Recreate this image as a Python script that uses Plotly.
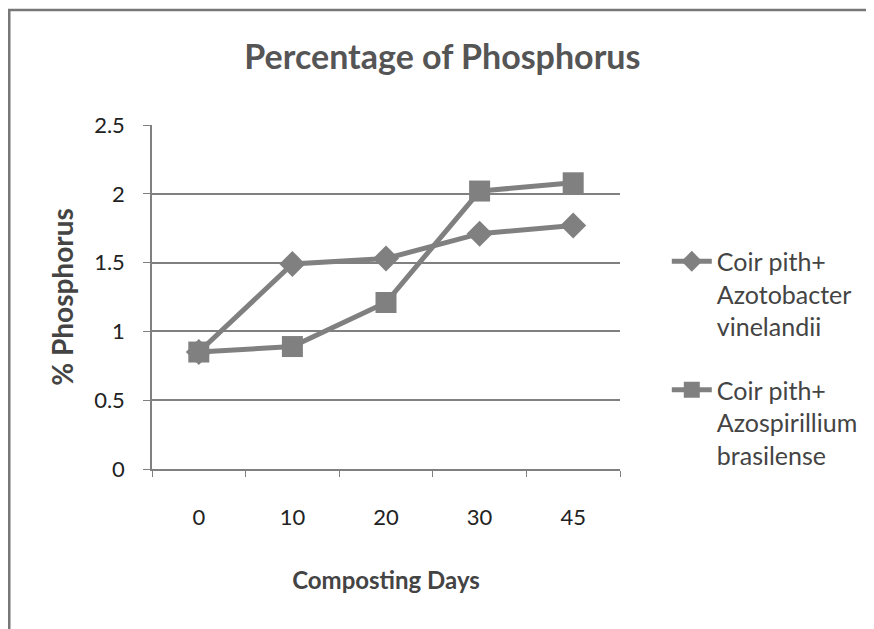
import plotly.graph_objects as go

days = ["0", "10", "20", "30", "45"]
azotobacter = [0.85, 1.49, 1.53, 1.71, 1.77]
azospirillum = [0.85, 0.89, 1.21, 2.02, 2.08]
series_names = ["Coir pith+<br>Azotobacter<br>vinelandii", "Coir pith+<br>Azospirillium<br>brasilense"]
y_ticks = [0, 0.5, 1, 1.5, 2, 2.5]
y_tick_text = ["0", "0.5", "1", "1.5", "2", "2.5"]

GRAY = "#808080"
FONT = "Lato"

fig = go.Figure()
fig.add_trace(go.Scatter(
    x=days, y=azotobacter, name=series_names[0], mode="lines+markers",
    legendgroup="a",
    line=dict(color=GRAY, width=5),
    marker=dict(symbol="diamond", size=20, color=GRAY),
))
fig.add_trace(go.Scatter(
    x=days, y=azospirillum, name=series_names[1], mode="lines+markers",
    legendgroup="b",
    line=dict(color=GRAY, width=5),
    marker=dict(symbol="square", size=21, color=GRAY),
))

fig.update_layout(
    width=874, height=629,
    margin=dict(l=144, r=262, t=117, b=168),
    paper_bgcolor="white", plot_bgcolor="white",
    font=dict(family=FONT, color="#222222"),
    title=dict(text="<b>Percentage of Phosphorus</b>", x=0.497, xanchor="center",
               y=0.922, yanchor="middle", font=dict(size=34, color="#555555", family=FONT)),
    showlegend=True,
    legend=dict(x=1.1, xanchor="left", y=0.67, yanchor="top",
                font=dict(size=25, color="#444444", family=FONT),
                valign="top", tracegroupgap=28, itemwidth=40,
                bgcolor="rgba(0,0,0,0)"),
    xaxis=dict(
        type="category", range=[-0.5, 4.5], showgrid=False, showline=True, linecolor=GRAY, linewidth=1.5,
        ticks="outside", tickson="boundaries", ticklen=6, tickcolor=GRAY,
        tickfont=dict(size=22, color="#222222"), ticklabelstandoff=28,
        title=dict(text="<b>Composting Days</b>", font=dict(size=24, color="#444444"), standoff=43),
        fixedrange=True,
    ),
    yaxis=dict(
        range=[0, 2.5], tickvals=y_ticks, ticktext=y_tick_text,
        showgrid=True, gridcolor=GRAY, gridwidth=1.5,
        showline=True, linecolor=GRAY, linewidth=1.5,
        ticks="outside", ticklen=7, tickcolor=GRAY,
        tickfont=dict(size=22, color="#222222"), ticklabelstandoff=14,
        title=dict(text="<b>% Phosphorus</b>", font=dict(size=28, color="#444444"), standoff=12),
        zeroline=False, fixedrange=True,
    ),
)

# outer chart frame (partially cropped in the reference)
fig.add_shape(type="rect", xref="paper", yref="paper",
              x0=-0.305, x1=1.6, y0=-0.55, y1=1.334,
              line=dict(color="#777777", width=2.5), fillcolor="rgba(0,0,0,0)", layer="below")

fig.write_html("out.html")
